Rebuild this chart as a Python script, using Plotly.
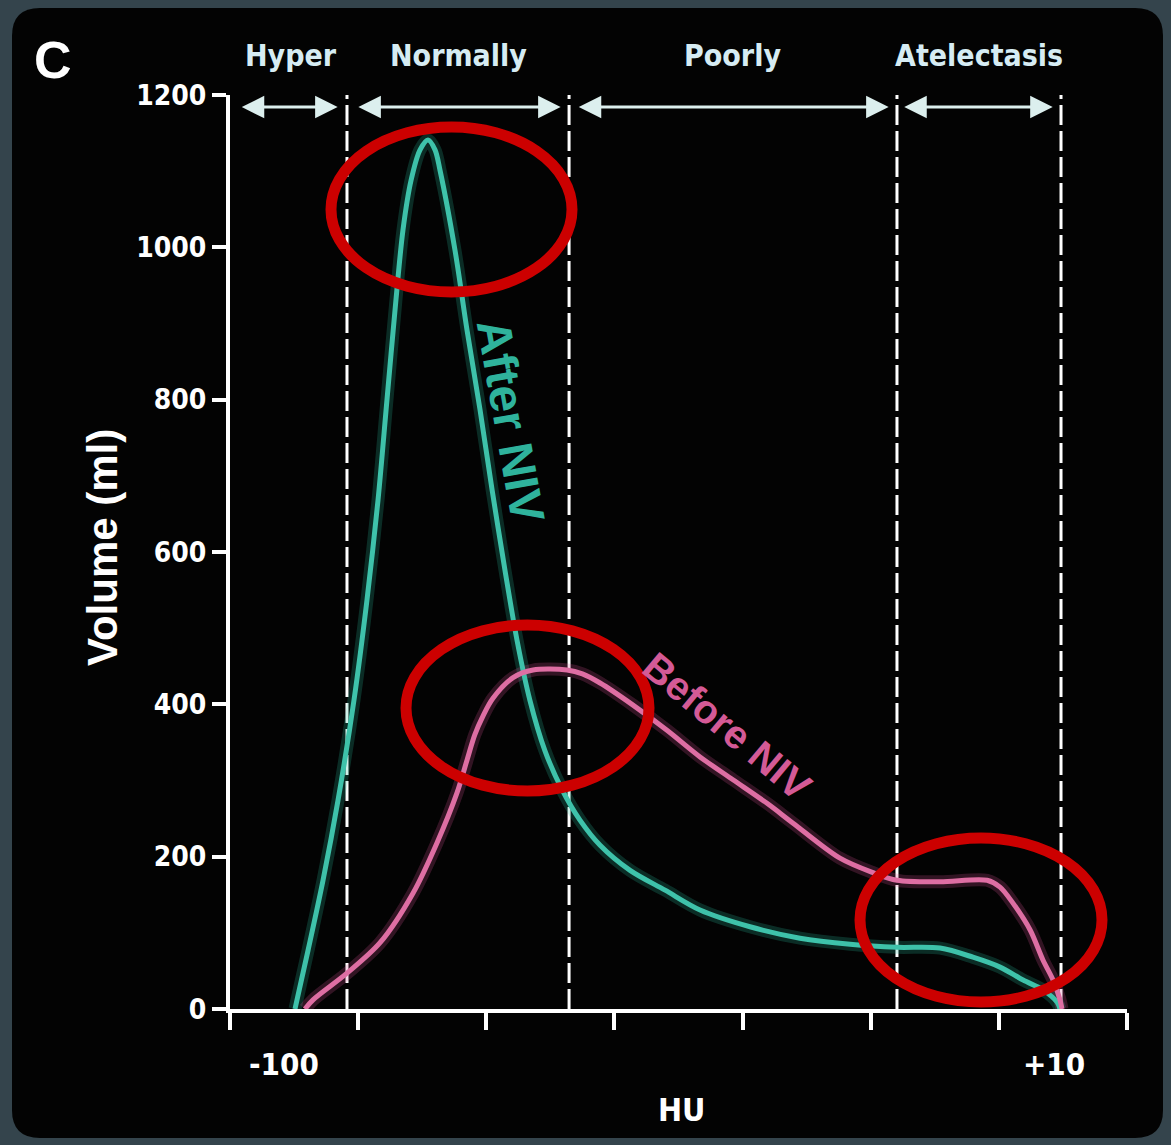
import plotly.graph_objects as go

# ---------------- data ----------------
# x is in units of the x-axis tick spacing (0 = y axis, 7 = right end of the axis)
after_x = [0.507, 0.609, 0.726, 0.843, 0.968, 1.069, 1.155, 1.225, 1.295, 1.350, 1.413, 1.483,
           1.545, 1.600, 1.639, 1.756, 1.850, 1.951, 2.045, 2.146, 2.240, 2.341, 2.458, 2.591,
           2.731, 2.888, 3.122, 3.395, 3.668, 4.058, 4.448, 4.839, 5.205, 5.541, 5.798, 6.009,
           6.189, 6.345, 6.454, 6.477]
after_y = [0, 77, 169, 274, 406, 537, 668, 800, 931, 1023, 1088, 1128,
           1141, 1128, 1101, 996, 891, 787, 682, 576, 484, 405, 339, 288,
           248, 215, 182, 156, 130, 108, 93, 85, 81, 80, 68, 55,
           38, 25, 9, 0]

before_x = [0.585, 0.648, 0.913, 1.171, 1.428, 1.615, 1.772, 1.850, 1.910, 1.975, 2.052, 2.209,
            2.365, 2.630, 2.750, 2.888, 3.145, 3.410, 3.668, 3.925, 4.191, 4.394, 4.760, 5.018,
            5.205, 5.541, 5.908, 6.009, 6.110, 6.243, 6.345, 6.423, 6.477, 6.493]
before_y = [0, 12, 47, 87, 152, 218, 284, 327, 360, 385, 408, 435,
            445, 445, 440, 428, 399, 366, 331, 301, 270, 244, 198, 179,
            169, 167, 169, 160, 139, 104, 64, 38, 12, 0]

y_ticks = [0, 200, 400, 600, 800, 1000, 1200]
x_ticks = [0, 1, 2, 3, 4, 5, 6, 7]
x_end_labels = ["-100", "+10"]
x_end_pos = [0.42, 6.43]

zones = ["Hyper", "Normally", "Poorly", "Atelectasis"]
zone_bounds = [0.913, 2.646, 5.205, 6.485]          # dashed separators
zone_arrows = [(0.08, 0.84), (0.99, 2.58), (2.71, 5.14), (5.25, 6.42)]
zone_label_x = [0.477, 1.787, 3.918, 5.845]

# ---------------- layout geometry ----------------
W, H = 1171, 1145
L, R, T, B = 230, 1127, 95, 1009
XU = (R - L) / 7.0
YU = (B - T) / 1200.0


def xp(px):
    return (px - L) / (R - L)


def yp(py):
    return (B - py) / (B - T)


def xd(px):
    return (px - L) / XU


def yd(py):
    return (B - py) / YU


GREEN = "#3ec2aa"
PINK = "#de6ea3"
NARROW = "DejaVu Sans Condensed, DejaVu Sans, sans-serif"
WIDE = "Liberation Sans, Arial, sans-serif"
LABEL_COL = "#d6ecf3"

fig = go.Figure()

# glow underlays
fig.add_trace(go.Scatter(x=after_x, y=after_y, mode="lines",
                         line=dict(color="rgba(40,190,160,0.22)", width=13, shape="spline", smoothing=0.9),
                         hoverinfo="skip", showlegend=False))
fig.add_trace(go.Scatter(x=before_x, y=before_y, mode="lines",
                         line=dict(color="rgba(220,80,150,0.22)", width=13, shape="spline", smoothing=0.9),
                         hoverinfo="skip", showlegend=False))
# main curves
fig.add_trace(go.Scatter(x=after_x, y=after_y, mode="lines", name="After NIV",
                         line=dict(color=GREEN, width=5, shape="spline", smoothing=0.9),
                         showlegend=False))
fig.add_trace(go.Scatter(x=before_x, y=before_y, mode="lines", name="Before NIV",
                         line=dict(color=PINK, width=5, shape="spline", smoothing=0.9),
                         showlegend=False))

shapes = []
# black rounded panel on the grey frame
x0p, x1p, y0p, y1p = xp(12), xp(1163), yp(1138), yp(8)
rx, ry = 28 / (R - L), 28 / (B - T)
path = (f"M {x0p+rx},{y1p} L {x1p-rx},{y1p} Q {x1p},{y1p} {x1p},{y1p-ry} "
        f"L {x1p},{y0p+ry} Q {x1p},{y0p} {x1p-rx},{y0p} L {x0p+rx},{y0p} "
        f"Q {x0p},{y0p} {x0p},{y0p+ry} L {x0p},{y1p-ry} Q {x0p},{y1p} {x0p+rx},{y1p} Z")
shapes.append(dict(type="path", xref="paper", yref="paper", path=path,
                   fillcolor="#030303", line=dict(width=0), layer="below"))

# dashed separators
for xb in zone_bounds:
    shapes.append(dict(type="line", xref="x", yref="y", x0=xb, x1=xb, y0=0, y1=1203,
                       line=dict(color="white", width=3, dash="20px,6px"), layer="below"))

# red highlight ellipses (pixel bounding boxes of the stroke centre-line)
for (p0, p1, q0, q1) in [(331, 572, 127, 292), (406, 649, 625, 791), (860, 1102, 838, 1002)]:
    shapes.append(dict(type="circle", xref="x", yref="y", x0=xd(p0), x1=xd(p1), y0=yd(q1), y1=yd(q0),
                       line=dict(color="#cc0000", width=11), layer="above"))

annotations = []
# double headed arrows for the zones
for (a0, a1) in zone_arrows:
    annotations.append(dict(x=a1, y=yd(107), ax=a0, ay=yd(107), xref="x", yref="y", axref="x", ayref="y",
                            text="", showarrow=True, arrowhead=2, arrowside="end+start",
                            arrowsize=1.5, arrowwidth=3, arrowcolor="#dcefee"))
# zone labels
for name, zx in zip(zones, zone_label_x):
    annotations.append(dict(x=zx, y=yp(56), xref="x", yref="paper", text=name, showarrow=False,
                            font=dict(family=NARROW, size=30, color=LABEL_COL, weight="bold"),
                            xanchor="center", yanchor="middle"))
# panel letter
annotations.append(dict(x=xp(53), y=yp(60), xref="paper", yref="paper", text="C", showarrow=False,
                        font=dict(family=WIDE, size=52, color="white", weight="bold"),
                        xanchor="center", yanchor="middle"))
# x end labels
for lab, pos in zip(x_end_labels, x_end_pos):
    annotations.append(dict(x=pos, y=yp(1064), xref="x", yref="paper", text=lab, showarrow=False,
                            font=dict(family=NARROW, size=31, color="white", weight="bold"),
                            xanchor="center", yanchor="middle"))
# axis titles
annotations.append(dict(x=xp(681), y=yp(1110), xref="paper", yref="paper", text="HU", showarrow=False,
                        font=dict(family=NARROW, size=32, color="white", weight="bold"),
                        xanchor="center", yanchor="middle"))
annotations.append(dict(x=xp(102), y=yp(548), xref="paper", yref="paper", text="Volume (ml)",
                        showarrow=False, textangle=-90,
                        font=dict(family=WIDE, size=42, color="white", weight="bold"),
                        xanchor="center", yanchor="middle"))
# curve labels
annotations.append(dict(x=xd(511), y=yd(420), xref="x", yref="y",
                        text="After NIV", showarrow=False, textangle=80,
                        font=dict(family=WIDE, size=48, color="#2fb39c", weight="bold"),
                        xanchor="center", yanchor="middle"))
annotations.append(dict(x=xd(727), y=yd(726), xref="x", yref="y",
                        text="Before NIV", showarrow=False, textangle=40,
                        font=dict(family=WIDE, size=40, color="#d45a96", weight="bold"),
                        xanchor="center", yanchor="middle"))

fig.update_layout(
    width=W, height=H,
    margin=dict(l=L, r=W - R, t=T, b=H - B, pad=0),
    paper_bgcolor="#34444c",
    plot_bgcolor="#030303",
    shapes=shapes,
    annotations=annotations,
    xaxis=dict(range=[0, 7], tickvals=x_ticks, ticktext=[""] * len(x_ticks),
               showgrid=False, zeroline=False, showline=True, linecolor="white", linewidth=4,
               ticks="outside", ticklen=17, tickwidth=4, tickcolor="white", fixedrange=True),
    yaxis=dict(range=[0, 1200], tickvals=y_ticks, ticktext=[str(v) for v in y_ticks],
               showgrid=False, zeroline=False, showline=True, linecolor="white", linewidth=4,
               ticks="outside", ticklen=14, tickwidth=4, tickcolor="white",
               tickfont=dict(family=NARROW, size=28, color="white", weight="bold"), fixedrange=True),
)

fig.write_html("out.html", config={"displayModeBar": False},
               post_script="document.body.style.margin='0px';document.body.style.overflow='hidden';")
